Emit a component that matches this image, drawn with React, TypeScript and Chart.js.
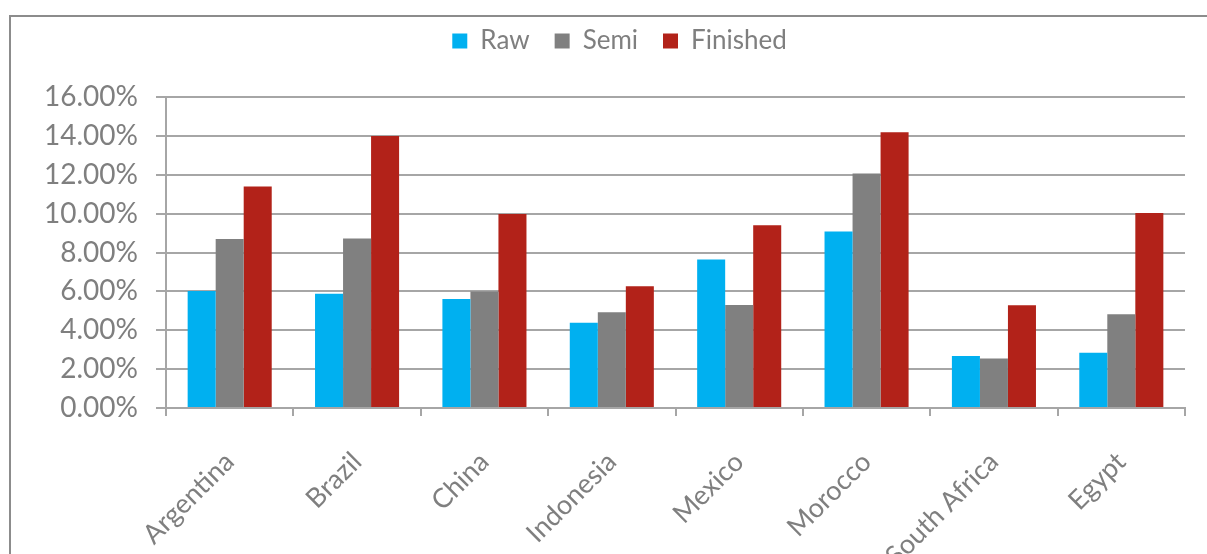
import React, { useEffect, useRef } from "react";
import { Chart, registerables } from "chart.js";

Chart.register(...registerables);

// Categories and series (percent values)
const countries = ["Argentina", "Brazil", "China", "Indonesia", "Mexico", "Morocco", "South Africa", "Egypt"];
const raw = [6.02, 5.88, 5.61, 4.39, 7.64, 9.08, 2.67, 2.84];
const semi = [8.7, 8.72, 6.0, 4.92, 5.3, 12.07, 2.55, 4.82];
const finished = [11.4, 14.0, 9.98, 6.26, 9.4, 14.19, 5.28, 10.03];

const seriesNames = ["Raw", "Semi", "Finished"];
const seriesColors = ["#00B0F0", "#808080", "#B22219"];

const yMax = 16;
const yStep = 2;

const FONT = "Lato, 'Open Sans', sans-serif";
const TEXT = "#7f7f7f";
const LINE = "#a6a6a6";

// Adds blank space under the legend and centres it over the plot-and-axis block
const legendLayout = {
  id: "legendLayout",
  beforeInit(chart: any) {
    const legend = chart.legend;
    if (!legend) return;
    const fit = legend.fit;
    legend.fit = function () {
      fit.call(this);
      this.height += 33;
    };
  },
  afterLayout(chart: any) {
    const legend = chart.legend;
    if (!legend) return;
    legend.left += 54;
  },
};

export default function App() {
  const canvasRef = useRef<HTMLCanvasElement | null>(null);

  useEffect(() => {
    const canvas = canvasRef.current;
    if (!canvas) return;
    const values = [raw, semi, finished];
    const chart = new Chart(canvas, {
      type: "bar",
      data: {
        labels: countries,
        datasets: seriesNames.map((name, i) => ({
          label: name,
          data: values[i],
          backgroundColor: seriesColors[i],
          borderWidth: 0,
          categoryPercentage: 0.66,
          barPercentage: 1,
        })),
      },
      plugins: [legendLayout],
      options: {
        responsive: false,
        animation: false,
        devicePixelRatio: 1,
        layout: { padding: { left: 0, right: 22, top: 3, bottom: 0 } },
        plugins: {
          tooltip: { enabled: false },
          legend: {
            position: "top",
            labels: {
              boxWidth: 15,
              boxHeight: 15,
              padding: 25,
              color: TEXT,
              font: { family: FONT, size: 26 },
            },
          },
        },
        scales: {
          y: {
            min: 0,
            max: yMax,
            ticks: {
              stepSize: yStep,
              color: TEXT,
              padding: 18,
              font: { family: FONT, size: 28 },
              callback: (v: any) => Number(v).toFixed(2) + "%",
            },
            grid: { color: LINE, lineWidth: 2, tickLength: 10 },
            border: { color: LINE, width: 2 },
            afterFit: (scale: any) => {
              scale.width = 166;
            },
          },
          x: {
            ticks: {
              color: TEXT,
              minRotation: 45,
              maxRotation: 45,
              padding: 30,
              autoSkip: false,
              font: { family: FONT, size: 27 },
            },
            grid: {
              offset: true,
              drawOnChartArea: false,
              color: LINE,
              lineWidth: 2,
              tickLength: 8,
            },
            border: { color: LINE, width: 2 },
            afterFit: (scale: any) => {
              scale.height = 146;
            },
          },
        },
      },
    });
    return () => chart.destroy();
  }, []);

  return (
    <div style={{ position: "fixed", left: 0, top: 0, width: 1207, height: 554, background: "#fff", overflow: "hidden" }}>
      <div
        style={{
          position: "absolute",
          left: 9,
          top: 15,
          width: 1300,
          height: 700,
          borderLeft: "2px solid #8c8c8c",
          borderTop: "2px solid #8c8c8c",
        }}
      />
      <canvas ref={canvasRef} width={1207} height={554} style={{ position: "absolute", left: 0, top: 0 }} />
    </div>
  );
}
